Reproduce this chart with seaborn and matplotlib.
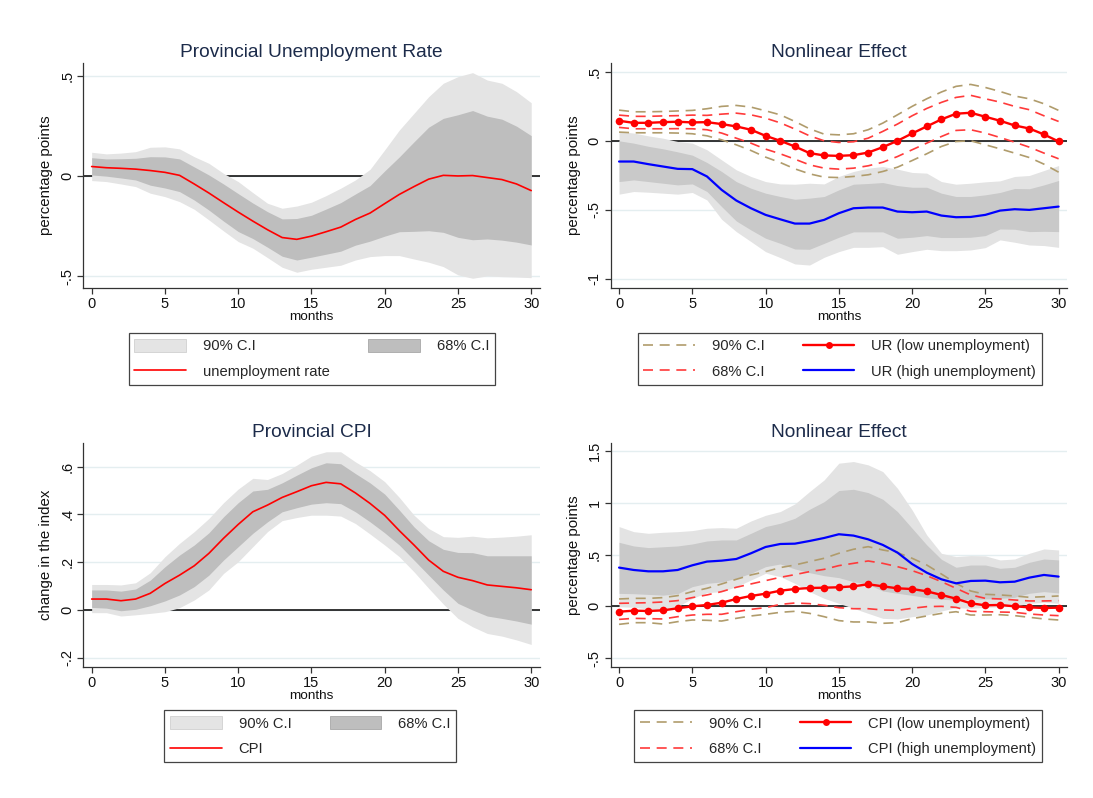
import numpy as np
import pandas as pd
import matplotlib
matplotlib.use("Agg")
import matplotlib.pyplot as plt
from matplotlib.patches import Patch
from matplotlib.lines import Line2D
from matplotlib.ticker import FixedLocator, FuncFormatter
import seaborn as sns

# ---------------- data ----------------
months = list(range(31))

# Panel 1: Provincial Unemployment Rate
ur = [0.047, 0.041, 0.038, 0.034, 0.027, 0.018, 0.003, -0.040, -0.085, -0.133, -0.180, -0.225, -0.268, -0.307, -0.316, -0.300,
      -0.278, -0.255, -0.217, -0.185, -0.138, -0.092, -0.053, -0.016, 0.003, 0.000, 0.002, -0.008, -0.018, -0.040, -0.073]
ur_hi68 = [0.091, 0.085, 0.086, 0.088, 0.096, 0.095, 0.085, 0.045, 0.005, -0.040, -0.088, -0.135, -0.178, -0.214, -0.212, -0.196,
           -0.165, -0.133, -0.090, -0.048, 0.025, 0.095, 0.170, 0.243, 0.287, 0.305, 0.326, 0.298, 0.283, 0.248, 0.201]
ur_lo68 = [0.005, -0.001, -0.010, -0.020, -0.046, -0.060, -0.078, -0.120, -0.170, -0.225, -0.277, -0.312, -0.355, -0.400, -0.419, -0.405,
           -0.390, -0.375, -0.345, -0.325, -0.300, -0.278, -0.276, -0.273, -0.281, -0.306, -0.318, -0.314, -0.320, -0.330, -0.344]
ur_hi90 = [0.118, 0.110, 0.114, 0.121, 0.143, 0.145, 0.135, 0.096, 0.063, 0.013, -0.028, -0.083, -0.136, -0.161, -0.150, -0.131,
           -0.098, -0.061, -0.020, 0.033, 0.130, 0.229, 0.312, 0.395, 0.462, 0.495, 0.515, 0.478, 0.462, 0.420, 0.365]
ur_lo90 = [-0.023, -0.028, -0.040, -0.053, -0.086, -0.103, -0.128, -0.166, -0.219, -0.274, -0.327, -0.360, -0.407, -0.455, -0.480, -0.465,
           -0.455, -0.445, -0.419, -0.402, -0.397, -0.397, -0.414, -0.430, -0.452, -0.493, -0.510, -0.498, -0.502, -0.504, -0.507]

# Panel 2: Nonlinear effect, unemployment rate
ur_low = [0.145, 0.130, 0.130, 0.135, 0.138, 0.133, 0.135, 0.121, 0.104, 0.080, 0.036, 0.000, -0.041, -0.089, -0.106, -0.109,
          -0.104, -0.085, -0.046, 0.000, 0.053, 0.104, 0.155, 0.196, 0.203, 0.174, 0.145, 0.111, 0.089, 0.046, -0.005]
ur_low_hi68 = [0.186, 0.177, 0.177, 0.180, 0.182, 0.186, 0.184, 0.193, 0.200, 0.188, 0.164, 0.130, 0.085, 0.036, 0.000, -0.012,
               -0.007, 0.019, 0.068, 0.121, 0.181, 0.234, 0.278, 0.314, 0.329, 0.304, 0.280, 0.249, 0.225, 0.181, 0.140]
ur_low_lo68 = [0.097, 0.087, 0.087, 0.087, 0.088, 0.087, 0.080, 0.056, 0.019, -0.017, -0.060, -0.094, -0.133, -0.174, -0.198, -0.205,
               -0.198, -0.181, -0.155, -0.114, -0.065, -0.017, 0.031, 0.075, 0.080, 0.056, 0.024, -0.010, -0.046, -0.089, -0.130]
ur_low_hi90 = [0.222, 0.210, 0.210, 0.212, 0.216, 0.220, 0.232, 0.249, 0.256, 0.244, 0.217, 0.188, 0.140, 0.087, 0.048, 0.043,
               0.051, 0.080, 0.128, 0.188, 0.249, 0.304, 0.353, 0.394, 0.408, 0.386, 0.357, 0.324, 0.304, 0.268, 0.220]
ur_low_lo90 = [0.063, 0.058, 0.058, 0.058, 0.056, 0.051, 0.036, 0.007, -0.029, -0.070, -0.118, -0.157, -0.203, -0.239, -0.263, -0.266,
               -0.258, -0.246, -0.222, -0.191, -0.143, -0.094, -0.041, -0.005, 0.000, -0.029, -0.058, -0.089, -0.121, -0.169, -0.227]
ur_high = [-0.150, -0.150, -0.169, -0.186, -0.203, -0.205, -0.258, -0.355, -0.432, -0.488, -0.536, -0.568, -0.599, -0.599, -0.572, -0.524,
           -0.488, -0.483, -0.483, -0.512, -0.517, -0.512, -0.541, -0.553, -0.551, -0.536, -0.505, -0.495, -0.500, -0.488, -0.476]
ur_high_hi68 = [0.000, -0.017, -0.040, -0.058, -0.080, -0.104, -0.157, -0.222, -0.295, -0.343, -0.379, -0.403, -0.423, -0.415, -0.403, -0.355,
                -0.314, -0.309, -0.302, -0.324, -0.336, -0.336, -0.379, -0.403, -0.403, -0.391, -0.374, -0.345, -0.347, -0.319, -0.287]
ur_high_lo68 = [-0.295, -0.283, -0.295, -0.307, -0.319, -0.312, -0.367, -0.476, -0.580, -0.645, -0.705, -0.742, -0.783, -0.785, -0.742, -0.698,
                -0.659, -0.659, -0.659, -0.705, -0.698, -0.686, -0.700, -0.700, -0.698, -0.686, -0.638, -0.640, -0.657, -0.655, -0.657]
ur_high_hi90 = [0.068, 0.056, 0.036, 0.019, -0.005, -0.017, -0.065, -0.138, -0.210, -0.258, -0.295, -0.312, -0.314, -0.307, -0.312, -0.258,
                -0.222, -0.198, -0.186, -0.205, -0.229, -0.234, -0.295, -0.314, -0.307, -0.297, -0.290, -0.258, -0.251, -0.215, -0.179]
ur_high_lo90 = [-0.386, -0.367, -0.372, -0.379, -0.386, -0.374, -0.428, -0.568, -0.657, -0.729, -0.802, -0.845, -0.891, -0.899, -0.843, -0.802,
                -0.771, -0.771, -0.766, -0.821, -0.802, -0.785, -0.795, -0.795, -0.790, -0.773, -0.717, -0.734, -0.754, -0.758, -0.771]

# Panel 3: Provincial CPI
cpi = [0.046, 0.046, 0.039, 0.046, 0.070, 0.111, 0.146, 0.185, 0.237, 0.300, 0.358, 0.411, 0.439, 0.471, 0.495, 0.520,
       0.534, 0.528, 0.490, 0.446, 0.396, 0.332, 0.272, 0.209, 0.162, 0.137, 0.123, 0.105, 0.099, 0.093, 0.085]
cpi_hi68 = [0.084, 0.084, 0.079, 0.088, 0.125, 0.181, 0.230, 0.272, 0.323, 0.390, 0.449, 0.498, 0.505, 0.532, 0.564, 0.595,
            0.616, 0.612, 0.571, 0.532, 0.485, 0.418, 0.348, 0.290, 0.254, 0.241, 0.240, 0.227, 0.227, 0.227, 0.227]
cpi_lo68 = [0.011, 0.008, -0.003, 0.003, 0.018, 0.038, 0.063, 0.098, 0.146, 0.209, 0.265, 0.321, 0.369, 0.411, 0.428, 0.443,
            0.449, 0.445, 0.411, 0.369, 0.323, 0.272, 0.209, 0.146, 0.084, 0.028, 0.000, -0.025, -0.035, -0.046, -0.059]
cpi_hi90 = [0.107, 0.107, 0.105, 0.114, 0.156, 0.223, 0.279, 0.328, 0.383, 0.449, 0.506, 0.551, 0.546, 0.571, 0.606, 0.644,
            0.662, 0.662, 0.620, 0.583, 0.537, 0.471, 0.397, 0.341, 0.307, 0.304, 0.309, 0.302, 0.305, 0.309, 0.315]
cpi_lo90 = [-0.011, -0.011, -0.025, -0.020, -0.014, -0.007, 0.010, 0.042, 0.084, 0.153, 0.202, 0.265, 0.328, 0.374, 0.387, 0.397,
            0.397, 0.393, 0.362, 0.318, 0.272, 0.223, 0.160, 0.091, 0.025, -0.035, -0.070, -0.098, -0.109, -0.125, -0.144]

# Panel 4: Nonlinear effect, CPI
cpi_low = [-0.052, -0.042, -0.045, -0.039, -0.019, 0.000, 0.013, 0.035, 0.071, 0.100, 0.122, 0.151, 0.167, 0.177, 0.180, 0.184,
           0.193, 0.213, 0.193, 0.174, 0.167, 0.145, 0.110, 0.074, 0.029, 0.010, 0.013, 0.000, -0.010, -0.016, -0.013]
cpi_low_hi68 = [0.029, 0.032, 0.035, 0.042, 0.055, 0.084, 0.110, 0.142, 0.184, 0.216, 0.248, 0.280, 0.306, 0.335, 0.357, 0.393,
                0.415, 0.438, 0.415, 0.383, 0.345, 0.296, 0.238, 0.174, 0.110, 0.077, 0.071, 0.061, 0.052, 0.052, 0.055]
cpi_low_lo68 = [-0.126, -0.116, -0.119, -0.122, -0.100, -0.084, -0.077, -0.077, -0.052, -0.029, -0.013, 0.019, 0.032, 0.026, 0.010, -0.013,
                -0.023, -0.023, -0.035, -0.039, -0.019, -0.003, 0.000, -0.010, -0.048, -0.052, -0.055, -0.058, -0.074, -0.084, -0.090]
cpi_low_hi90 = [0.071, 0.077, 0.077, 0.084, 0.103, 0.142, 0.174, 0.216, 0.261, 0.303, 0.335, 0.374, 0.399, 0.432, 0.464, 0.512,
                0.551, 0.576, 0.544, 0.519, 0.464, 0.399, 0.312, 0.222, 0.148, 0.116, 0.110, 0.100, 0.087, 0.093, 0.100]
cpi_low_lo90 = [-0.174, -0.158, -0.158, -0.171, -0.148, -0.132, -0.135, -0.142, -0.116, -0.093, -0.077, -0.058, -0.048, -0.068, -0.100, -0.138,
                -0.151, -0.151, -0.164, -0.158, -0.119, -0.093, -0.068, -0.052, -0.084, -0.084, -0.081, -0.090, -0.106, -0.122, -0.132]
cpi_high = [0.374, 0.351, 0.338, 0.338, 0.351, 0.396, 0.432, 0.441, 0.457, 0.512, 0.573, 0.602, 0.605, 0.631, 0.660, 0.696,
            0.683, 0.647, 0.593, 0.519, 0.409, 0.325, 0.261, 0.222, 0.245, 0.248, 0.232, 0.238, 0.277, 0.303, 0.287]
cpi_high_hi68 = [0.618, 0.583, 0.567, 0.575, 0.583, 0.602, 0.631, 0.641, 0.641, 0.705, 0.770, 0.802, 0.850, 0.937, 1.011, 1.118,
                 1.130, 1.098, 1.034, 0.915, 0.754, 0.593, 0.454, 0.377, 0.399, 0.399, 0.367, 0.377, 0.425, 0.457, 0.448]
cpi_high_lo68 = [0.125, 0.122, 0.115, 0.108, 0.122, 0.190, 0.222, 0.235, 0.271, 0.319, 0.383, 0.409, 0.361, 0.325, 0.296, 0.277,
                 0.238, 0.213, 0.148, 0.126, 0.106, 0.084, 0.068, 0.061, 0.068, 0.071, 0.077, 0.087, 0.126, 0.142, 0.129]
cpi_high_hi90 = [0.770, 0.721, 0.705, 0.715, 0.721, 0.731, 0.754, 0.760, 0.754, 0.824, 0.879, 0.915, 0.989, 1.108, 1.221, 1.382,
                 1.398, 1.366, 1.301, 1.140, 0.931, 0.689, 0.512, 0.480, 0.490, 0.487, 0.448, 0.457, 0.512, 0.554, 0.544]
cpi_high_lo90 = [-0.003, -0.008, -0.026, -0.035, -0.003, 0.077, 0.132, 0.142, 0.190, 0.254, 0.319, 0.287, 0.222, 0.142, 0.077, 0.029,
                 -0.019, -0.068, -0.116, -0.122, -0.100, -0.084, -0.045, -0.013, -0.019, -0.010, -0.003, 0.003, 0.029, 0.039, 0.029]

x_ticks = [0, 5, 10, 15, 20, 25, 30]
y_ticks_ur = [-0.5, 0, 0.5]
y_ticks_nl_ur = [-1, -0.5, 0, 0.5]
y_ticks_cpi = [-0.2, 0, 0.2, 0.4, 0.6]
y_ticks_nl_cpi = [-0.5, 0, 0.5, 1, 1.5]

titles = ["Provincial Unemployment Rate", "Nonlinear Effect", "Provincial CPI", "Nonlinear Effect"]

# ---------------- style ----------------
sns.set_theme(style="white")
plt.rcParams["font.family"] = ["Liberation Sans", "DejaVu Sans"]

TITLE_C = "#1c2b4a"
AX_C = "#333333"
GRID_C = "#e4eef0"
G90_A, G68_A = "#e4e4e4", "#bebebe"
G90_B, G68_B = "#e3e3e3", "#c9c9c9"
OLIVE = "#b09c6c"
RED = "#ff0000"
RED_D = "#ff3a3a"
BLUE = "#0000ff"
DASH = (6, 4)

fig = plt.figure(figsize=(10.93, 7.98), dpi=100)
fig.patch.set_facecolor("white")

W = 456.7 / 1093
H1 = 224.7 / 798
positions = [
    (83.3 / 1093, (798 - 287.7) / 798, W, H1),
    (610.7 / 1093, (798 - 287.7) / 798, W, H1),
    (83.3 / 1093, (798 - 666.7) / 798, W, 224.0 / 798),
    (610.7 / 1093, (798 - 666.7) / 798, W, 224.0 / 798),
]
ylims = [(-0.557, 0.563), (-1.063, 0.563), (-0.237, 0.70), (-0.583, 1.58)]
yticks_all = [y_ticks_ur, y_ticks_nl_ur, y_ticks_cpi, y_ticks_nl_cpi]
ylabels = ["percentage points", "percentage points", "change in the index", "percentage points"]


def fmt(v, _pos=None):
    if abs(v) < 1e-9:
        return "0"
    s = f"{v:g}"
    s = s.replace("-0.", "-.")
    if s.startswith("0."):
        s = s[1:]
    return s


axes = []
for i, pos in enumerate(positions):
    ax = fig.add_axes(pos)
    axes.append(ax)
    ax.set_xlim(-0.57, 30.6)
    ax.set_ylim(*ylims[i])
    ax.xaxis.set_major_locator(FixedLocator(x_ticks))
    ax.yaxis.set_major_locator(FixedLocator(yticks_all[i]))
    ax.yaxis.set_major_formatter(FuncFormatter(fmt))
    ax.yaxis.grid(True, color=GRID_C, lw=1.0)
    ax.xaxis.grid(False)
    ax.set_axisbelow(True)
    for s in ["top", "right"]:
        ax.spines[s].set_visible(False)
    for s in ["left", "bottom"]:
        ax.spines[s].set_color(AX_C)
        ax.spines[s].set_linewidth(0.9)
    ax.tick_params(axis="both", direction="out", length=4, width=0.9, color=AX_C,
                   labelsize=10.5, labelcolor="#111111", pad=2.5, left=True, bottom=True)
    for lab in ax.get_yticklabels():
        lab.set_rotation(90)
        lab.set_va("center")
    ax.set_title(titles[i], fontsize=13.8, color=TITLE_C, pad=4)
    ax.axhline(0, color="black", lw=1.1, zorder=1)


def band(ax, lo, hi, color):
    ax.fill_between(months, lo, hi, color=color, lw=0, zorder=2)


def line(ax, y, color, lw, **kw):
    sns.lineplot(x=months, y=y, ax=ax, color=color, linewidth=lw, legend=False, **kw)


# Panel 1
ax = axes[0]
band(ax, ur_lo90, ur_hi90, G90_A)
band(ax, ur_lo68, ur_hi68, G68_A)
line(ax, ur, RED, 1.2, zorder=4)

# Panel 3
ax = axes[2]
band(ax, cpi_lo90, cpi_hi90, G90_A)
band(ax, cpi_lo68, cpi_hi68, G68_A)
line(ax, cpi, RED, 1.2, zorder=4)


def nonlinear(ax, low, l_hi68, l_lo68, l_hi90, l_lo90, high, h_hi68, h_lo68, h_hi90, h_lo90):
    band(ax, h_lo90, h_hi90, G90_B)
    band(ax, h_lo68, h_hi68, G68_B)
    for y in (l_hi90, l_lo90):
        sns.lineplot(x=months, y=y, ax=ax, color=OLIVE, linewidth=1.2, legend=False,
                     dashes=False, zorder=3).lines[-1].set_dashes(DASH)
    for y in (l_hi68, l_lo68):
        sns.lineplot(x=months, y=y, ax=ax, color=RED_D, linewidth=1.2, legend=False,
                     dashes=False, zorder=3).lines[-1].set_dashes(DASH)
    line(ax, high, BLUE, 1.6, zorder=4)
    line(ax, low, RED, 1.7, zorder=5, marker="o", markersize=5.5, markeredgewidth=0)


nonlinear(axes[1], ur_low, ur_low_hi68, ur_low_lo68, ur_low_hi90, ur_low_lo90,
          ur_high, ur_high_hi68, ur_high_lo68, ur_high_hi90, ur_high_lo90)
nonlinear(axes[3], cpi_low, cpi_low_hi68, cpi_low_lo68, cpi_low_hi90, cpi_low_lo90,
          cpi_high, cpi_high_hi68, cpi_high_lo68, cpi_high_hi90, cpi_high_lo90)

for i, ax in enumerate(axes):
    ax.set_xlabel("months", fontsize=9.7, color="#111111", labelpad=0)
    ax.set_ylabel(ylabels[i], fontsize=10.8, color="#111111", labelpad=5)

# ---------------- legends ----------------
leg_kw = dict(loc="center", ncol=2, fontsize=10.6, frameon=True, fancybox=False,
              edgecolor="#444444", framealpha=1, handlelength=3.5, handleheight=1.0,
              handletextpad=1.15, columnspacing=2.6, labelspacing=0.75, borderpad=0.4,
              borderaxespad=0)


def patch(c):
    return Patch(facecolor=c, edgecolor="#d0d0d0" if c in (G90_A, G90_B) else "#a8a8a8", lw=0.6)


def dash_h(c):
    return Line2D([], [], color=c, lw=1.2, dashes=DASH)


def leg(handles, labels, cx, cy):
    lg = fig.legend(handles, labels, bbox_to_anchor=(cx, cy), **leg_kw)
    lg.get_frame().set_linewidth(0.9)
    return lg


leg([patch(G90_A), Line2D([], [], color=RED, lw=1.2), patch(G68_A)],
    ["90% C.I", "unemployment rate", "68% C.I"], 0.2852, 0.5501)
leg([dash_h(OLIVE), dash_h(RED_D),
     Line2D([], [], color=RED, lw=1.7, marker="o", markersize=5, markeredgewidth=0),
     Line2D([], [], color=BLUE, lw=1.6)],
    ["90% C.I", "68% C.I", "UR (low unemployment)", "UR (high unemployment)"], 0.7683, 0.5501)
leg([patch(G90_A), Line2D([], [], color=RED, lw=1.2), patch(G68_A)],
    ["90% C.I", "CPI", "68% C.I"], 0.2839, 0.0773)
leg([dash_h(OLIVE), dash_h(RED_D),
     Line2D([], [], color=RED, lw=1.7, marker="o", markersize=5, markeredgewidth=0),
     Line2D([], [], color=BLUE, lw=1.6)],
    ["90% C.I", "68% C.I", "CPI (low unemployment)", "CPI (high unemployment)"], 0.767, 0.0773)

fig.savefig("out.png", dpi=100, facecolor="white")
